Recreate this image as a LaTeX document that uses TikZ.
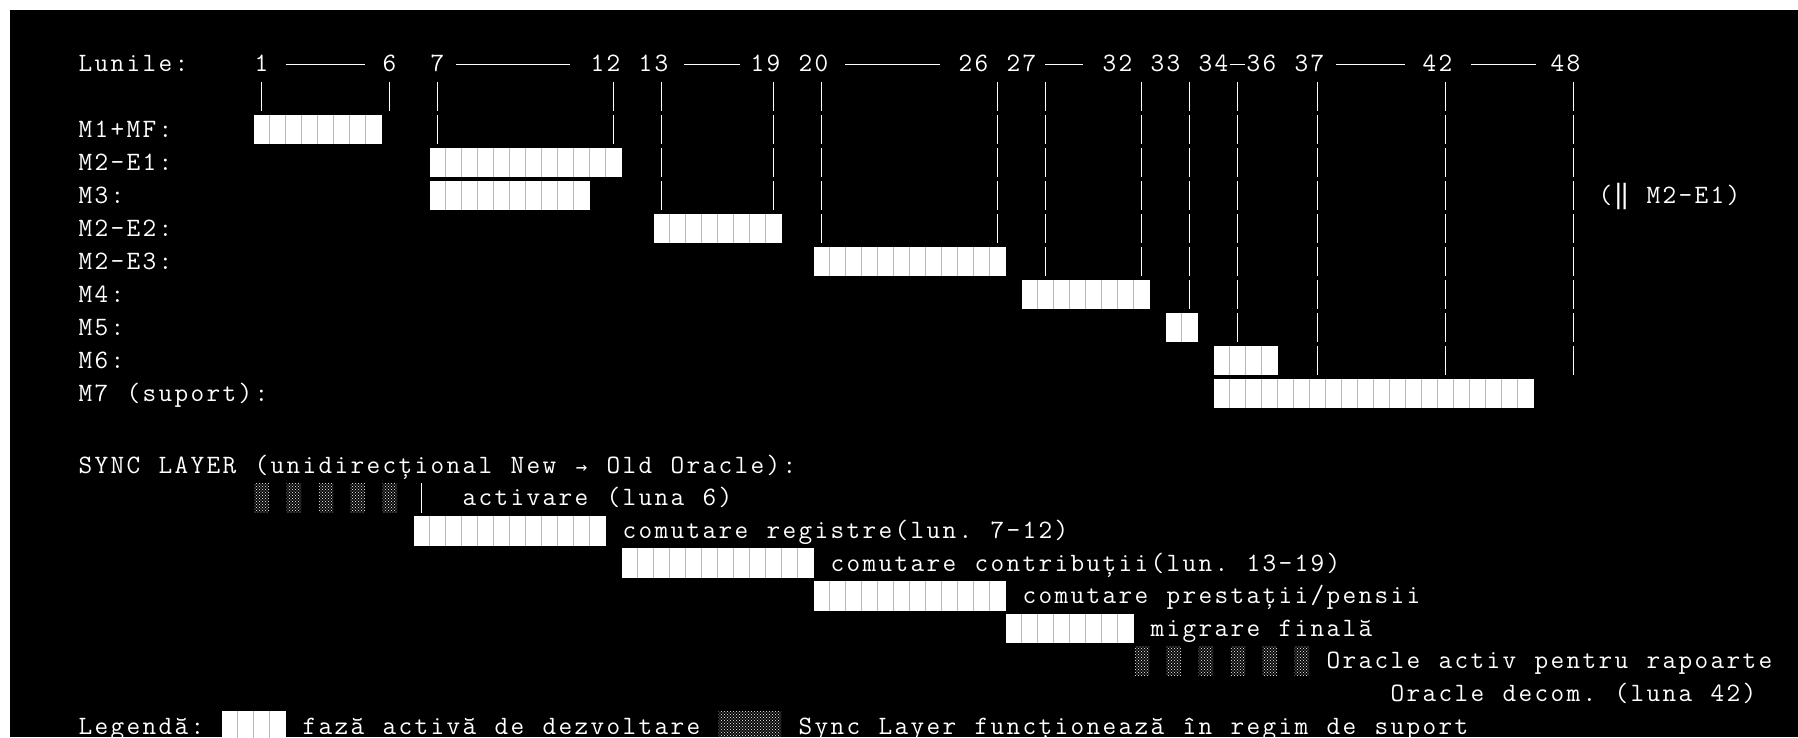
\documentclass[tikz,border=0pt]{standalone}
\usepackage{fontspec}
\usetikzlibrary{patterns,calc}
\newfontfamily\dvs{DejaVu Sans Mono}
\newlength\cellw
\setlength\cellw{16pt}
\makeatletter
\newcommand\mono[1]{\@tfor\monoch:=#1\do{\makebox[\cellw][c]{\monoch}}}
\makeatother
\pgfdeclarepatternformonly{lightdots}{\pgfqpoint{-1pt}{-1pt}}{\pgfqpoint{4pt}{4pt}}{\pgfqpoint{3pt}{3pt}}{%
  \pgfpathcircle{\pgfqpoint{0pt}{0pt}}{0.65pt}%
  \pgfpathcircle{\pgfqpoint{1.5pt}{1.5pt}}{0.65pt}%
  \pgfusepath{fill}}
\newcommand\colx[1]{77.5+16*(#1)}
\newcommand\rowy[1]{(((#1)<11) ? (63.5+33*(#1)) : (465.5+32.6*((#1)-12)))}
\tikzset{
  txt/.style={anchor=base west, inner sep=0pt, outer sep=0pt, text=white,
    font=\fontsize{26.5}{30}\selectfont\ttfamily},
  vbarl/.style={draw=white, line width=1.3pt},
  sepl/.style={draw=gray!55, line width=0.8pt},
  hdash/.style={draw=white, line width=1.4pt},
  shdp/.style={pattern=lightdots, pattern color=gray!35!white},
}
\newcommand\rowtxt[4]{\node[txt] (#1) at ({\colx{#3}},{\rowy{#2}+7.8}) {\mono{#4}};}
\newcommand\blk[3]{%
  \fill[white] ({\colx{#2}},{\rowy{#1}-14.9}) rectangle ({\colx{#2+#3}},{\rowy{#1}+14.9});
  \pgfmathtruncatemacro\blkn{#3-1}%
  \foreach \k in {1,...,\blkn}{\draw[sepl] ({\colx{#2+\k}},{\rowy{#1}-14.9}) -- ({\colx{#2+\k}},{\rowy{#1}+14.9});}%
}
\newcommand\vb[2]{\draw[vbarl] ({\colx{#2}+8},{\rowy{#1}-14.9}) -- ({\colx{#2}+8},{\rowy{#1}+14.9});}
\newcommand\shd[3]{\fill[shdp] ({\colx{#2}+1},{\rowy{#1}-14.5}) rectangle ({\colx{#2+#3}-0.5},{\rowy{#1}+14.5});}
\begin{document}
\begin{tikzpicture}[x=1pt,y=-1pt]
\useasboundingbox (0,0) rectangle (1798,737);
\fill[white] (0,0) rectangle (1798,737);
\fill[black] (10,10) rectangle (1798,737);

% header
\rowtxt{lun}{0}{0}{Lunile:}
\rowtxt{h1}{0}{11}{1}
\rowtxt{h6}{0}{19}{6}
\rowtxt{h7}{0}{22}{7}
\rowtxt{h12}{0}{32}{12}
\rowtxt{h13}{0}{35}{13}
\rowtxt{h19}{0}{42}{19}
\rowtxt{h20}{0}{45}{20}
\rowtxt{h26}{0}{55}{26}
\rowtxt{h27}{0}{58}{27}
\rowtxt{h32}{0}{64}{32}
\rowtxt{h33}{0}{67}{33}
\rowtxt{h34}{0}{70}{34}
\rowtxt{h36}{0}{73}{36}
\rowtxt{h37}{0}{76}{37}
\rowtxt{h42}{0}{84}{42}
\rowtxt{h48}{0}{92}{48}
\draw[hdash] ($(h1.base east)+(16,-6.8)$) -- ($(h6.base west)+(-17,-6.8)$);
\draw[hdash] ($(h7.base east)+(10.5,-6.8)$) -- ($(h12.base west)+(-19.5,-6.8)$);
\draw[hdash] ($(h13.base east)+(14.5,-6.8)$) -- ($(h19.base west)+(-9.5,-6.8)$);
\draw[hdash] ($(h20.base east)+(15.5,-6.8)$) -- ($(h26.base west)+(-17.5,-6.8)$);
\draw[hdash] ($(h27.base east)+(7.5,-6.8)$) -- ($(h32.base west)+(-18.5,-6.8)$);
\draw[hdash] ($(h34.base east)+(0.5,-6.8)$) -- ($(h36.base west)+(-0.5,-6.8)$);
\draw[hdash] ($(h37.base east)+(10.5,-6.8)$) -- ($(h42.base west)+(-16.5,-6.8)$);
\draw[hdash] ($(h42.base east)+(17.5,-6.8)$) -- ($(h48.base west)+(-13.5,-6.8)$);

% vertical guide bars
\foreach \c in {11,19,22,33,36,43,46,57,60,66,69,72,77,85,93} {\vb{1}{\c}}
\foreach \c in {22,33,36,43,46,57,60,66,69,72,77,85,93} {\vb{2}{\c}}
\foreach \c in {36,43,46,57,60,66,69,72,77,85,93} {\vb{3}{\c}}
\foreach \c in {36,43,46,57,60,66,69,72,77,85,93} {\vb{4}{\c}}
\foreach \c in {46,57,60,66,69,72,77,85,93} {\vb{5}{\c}}
\foreach \c in {60,66,69,72,77,85,93} {\vb{6}{\c}}
\foreach \c in {69,72,77,85,93} {\vb{7}{\c}}
\foreach \c in {72,77,85,93} {\vb{8}{\c}}
\foreach \c in {77,85,93} {\vb{9}{\c}}

% module rows
\rowtxt{m1}{2}{0}{M1+MF:}
\rowtxt{m2a}{3}{0}{M2-E1:}
\rowtxt{m3}{4}{0}{M3:}
\rowtxt{m2b}{5}{0}{M2-E2:}
\rowtxt{m2c}{6}{0}{M2-E3:}
\rowtxt{m4}{7}{0}{M4:}
\rowtxt{m5}{8}{0}{M5:}
\rowtxt{m6}{9}{0}{M6:}
\rowtxt{m7}{10}{0}{M7~(suport):}
\blk{2}{11}{8}
\blk{3}{22}{12}
\blk{4}{22}{10}
\blk{5}{36}{8}
\blk{6}{46}{12}
\blk{7}{59}{8}
\blk{8}{68}{2}
\blk{9}{71}{4}
\blk{10}{71}{20}
\rowtxt{par}{4}{95}{({\dvs ‖}~M2-E1)}

% sync layer
\rowtxt{sync}{12}{0}{SYNC~LAYER~(unidirecțional~New~{\dvs\fontsize{19}{20}\selectfont →}~Old~Oracle):}
\foreach \c in {11,13,15,17,19} {\shd{13}{\c}{1}}
\vb{13}{21}
\rowtxt{s1}{13}{24}{activare~(luna~6)}
\blk{14}{21}{12}
\rowtxt{s2}{14}{34}{comutare~registre(lun.~7-12)}
\blk{15}{34}{12}
\rowtxt{s3}{15}{47}{comutare~contribuții(lun.~13-19)}
\blk{16}{46}{12}
\rowtxt{s4}{16}{59}{comutare~prestații/pensii}
\blk{17}{58}{8}
\rowtxt{s5}{17}{67}{migrare~finală}
\foreach \c in {66,68,70,72,74,76} {\shd{18}{\c}{1}}
\rowtxt{s6}{18}{78}{Oracle~activ~pentru~rapoarte}
\rowtxt{s7}{19}{82}{Oracle~decom.~(luna~42)}

% legend
\rowtxt{leg}{20}{0}{Legendă:}
\blk{20}{9}{4}
\rowtxt{leg1}{20}{14}{fază~activă~de~dezvoltare}
\shd{20}{40}{4}
\rowtxt{leg2}{20}{45}{Sync~Layer~funcționează~în~regim~de~suport}
\end{tikzpicture}
\end{document}
